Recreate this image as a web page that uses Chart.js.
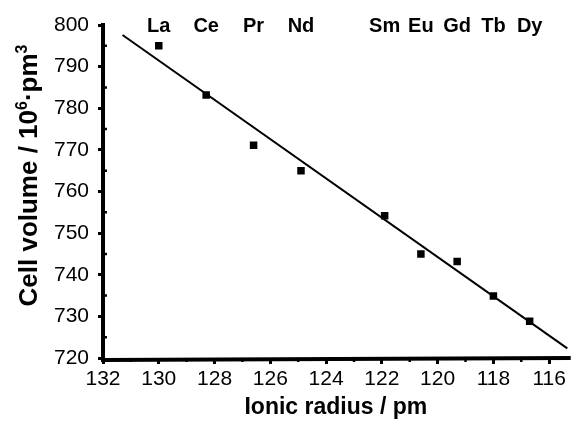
<!DOCTYPE html>
<html>
<head>
<meta charset="utf-8">
<script src="https://cdn.jsdelivr.net/npm/chart.js@4"></script>
<style>
  html, body { margin: 0; padding: 0; background: #fff; }
  #wrap { width: 574px; height: 421px; }
</style>
</head>
<body>
<div id="wrap"><canvas id="chart"></canvas></div>
<script>
const elements = ["La", "Ce", "Pr", "Nd", "Sm", "Eu", "Gd", "Tb", "Dy"];
const radius = [130.0, 128.3, 126.6, 124.9, 121.9, 120.6, 119.3, 118.0, 116.7];
const volume = [795.0, 783.2, 771.1, 765.0, 754.2, 745.0, 743.2, 734.9, 728.8];

// fitted line at both ends
const fitX = [131.3, 115.35];
const fitY = [797.6, 722.3];

const xTicks = [132, 130, 128, 126, 124, 122, 120, 118, 116];
const yTicks = [720, 730, 740, 750, 760, 770, 780, 790, 800];

const FONT = "'Liberation Sans', Arial, sans-serif";

// y title with real superscripts, thick axes, element symbols, minor ticks
const extras = {
  id: "extras",
  afterDraw(chart) {
    const { ctx, chartArea, scales: { x, y } } = chart;
    ctx.save();
    ctx.fillStyle = "#000";
    ctx.strokeStyle = "#000";

    // axis lines
    ctx.lineWidth = 4;
    ctx.beginPath();
    ctx.moveTo(x.left, chartArea.top - 2);
    ctx.lineTo(x.left, y.bottom + 2);
    ctx.lineTo(x.right + 2, y.bottom);
    ctx.moveTo(x.left, y.bottom);
    ctx.stroke();

    // minor ticks
    ctx.lineWidth = 2.5;
    ctx.beginPath();
    for (let i = 0; i < xTicks.length - 1; i++) {
      const px = x.getPixelForValue(xTicks[i] - 1);
      ctx.moveTo(px, y.bottom);
      ctx.lineTo(px, y.bottom + 4);
    }
    for (let i = 0; i < yTicks.length - 1; i++) {
      const py = y.getPixelForValue(yTicks[i] + 5);
      ctx.moveTo(x.left, py);
      ctx.lineTo(x.left + 4, py);
    }
    ctx.stroke();

    // element symbols
    ctx.font = "bold 20px " + FONT;
    ctx.textAlign = "center";
    ctx.textBaseline = "middle";
    elements.forEach((el, i) => {
      ctx.fillText(el, x.getPixelForValue(radius[i]), chartArea.top + 1);
    });

    // y axis title
    const parts = [
      ["Cell volume / 10", 26, 0],
      ["6", 16, -10],
      ["\u00b7pm", 26, 0],
      ["3", 16, -10],
    ];
    let total = 0;
    parts.forEach(([t, s]) => { ctx.font = "bold " + s + "px " + FONT; total += ctx.measureText(t).width; });
    ctx.translate(37, (chartArea.top + chartArea.bottom) / 2 - 16);
    ctx.rotate(-Math.PI / 2);
    ctx.textAlign = "left";
    ctx.textBaseline = "alphabetic";
    let cx = -total / 2;
    parts.forEach(([t, s, dy]) => {
      ctx.font = "bold " + s + "px " + FONT;
      ctx.fillText(t, cx, dy);
      cx += ctx.measureText(t).width;
    });
    ctx.restore();
  }
};

new Chart(document.getElementById("chart"), {
  type: "scatter",
  data: {
    datasets: [
      {
        label: "fit",
        type: "line",
        data: fitX.map((v, i) => ({ x: v, y: fitY[i] })),
        borderColor: "#000",
        borderWidth: 2,
        pointRadius: 0,
        fill: false,
        tension: 0,
      },
      {
        label: "cell volume",
        data: radius.map((v, i) => ({ x: v, y: volume[i] })),
        pointStyle: "rect",
        pointRadius: 5.3,
        borderWidth: 0,
        backgroundColor: "#000",
        borderColor: "#000",
      },
    ],
  },
  options: {
    responsive: true,
    maintainAspectRatio: false,
    animation: false,
    layout: { padding: { top: 25, right: 2, left: 0, bottom: 0 } },
    plugins: { legend: { display: false }, tooltip: { enabled: false } },
    scales: {
      x: {
        type: "linear",
        reverse: true,
        min: 115.3,
        max: 132,
        afterBuildTicks: (s) => { s.ticks = xTicks.map((v) => ({ value: v })); },
        afterFit: (s) => { s.height = 63; },
        border: { display: false },
        grid: { display: true, drawOnChartArea: false, color: "#000", lineWidth: 3, tickLength: 6 },
        ticks: { color: "#000", font: { family: FONT, size: 21 }, padding: 3, maxRotation: 0 },
        title: {
          display: true,
          text: "Ionic radius / pm",
          color: "#000",
          font: { family: FONT, size: 23, weight: "bold" },
          padding: { top: 1, bottom: 0 },
        },
      },
      y: {
        type: "linear",
        min: 720,
        max: 800,
        afterBuildTicks: (s) => { s.ticks = yTicks.map((v) => ({ value: v })); },
        afterFit: (s) => { s.width = 103; },
        border: { display: false },
        grid: { display: true, drawOnChartArea: false, color: "#000", lineWidth: 3, tickLength: 5 },
        ticks: { color: "#000", font: { family: FONT, size: 21 }, padding: 9 },
      },
    },
  },
  plugins: [extras],
});
</script>
</body>
</html>
